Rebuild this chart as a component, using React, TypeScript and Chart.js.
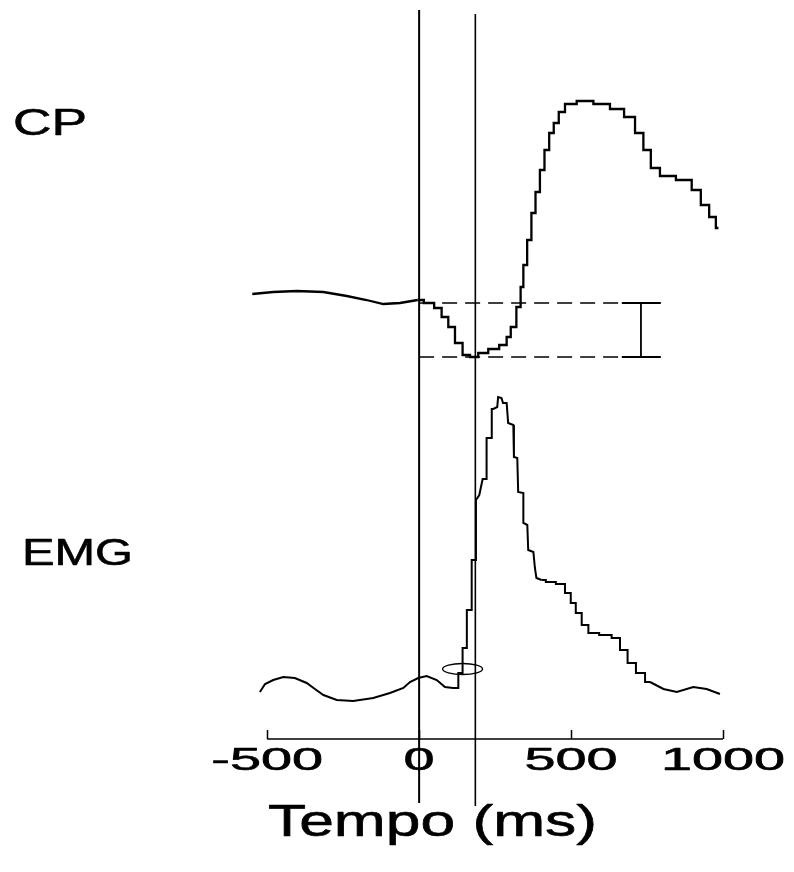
import React, { useEffect, useRef } from "react";
import { Chart, registerables } from "chart.js";

Chart.register(...registerables);

// Time axis (ms)
const xTicks = [-500, 0, 500, 1000];
const xTickLabels = ["-500", "0", "500", "1000"];

// CP trace (time in ms, amplitude in arbitrary units)
const cpTime = [-549, -480, -403, -315, -238, -173, -118, -63, -5, 36, 63, 85, 107, 129, 157, 178, 211, 244, 283, 293, 310, 330, 338, 348, 363, 376, 390, 405, 420, 436, 450, 469, 491, 546, 601, 655, 694, 727, 749, 776, 809, 881, 913, 941, 968, 985];
const cpValue = [516, 518, 519, 518, 514, 510, 506, 507, 510, 507, 502, 493, 483, 467, 455, 453, 457, 461, 465, 473, 483, 503, 523, 545, 570, 597, 618, 640, 660, 677, 687, 698, 706, 709, 706, 701, 693, 677, 660, 642, 634, 630, 620, 605, 593, 582];
// index where the recorded CP trace becomes step-like (after stimulus onset)
const cpStepFrom = 8;

// EMG trace
const emgTime = [-524, -507, -480, -447, -409, -370, -343, -315, -271, -217, -151, -96, -52, -30, -3, 25, 58, 85, 112, 129, 129, 143, 143, 157, 157, 173, 173, 187, 187, 198, 209, 222, 222, 239, 239, 244, 257, 260, 271, 276, 288, 293, 310, 312, 323, 326, 343, 343, 356, 359, 376, 381, 386, 403, 431, 469, 491, 507, 524, 546, 568, 617, 650, 672, 700, 727, 760, 804, 848, 902, 946, 990];
const emgValue = [118, 126, 130, 133, 132, 127, 121, 115, 110, 109, 112, 117, 122, 128, 132, 134, 130, 123, 122, 122, 137, 137, 162, 162, 200, 200, 250, 250, 310, 315, 331, 331, 372, 372, 401, 401, 403, 413, 412, 407, 407, 387, 385, 353, 352, 318, 317, 287, 285, 260, 258, 242, 232, 230, 228, 226, 217, 207, 197, 185, 177, 175, 172, 160, 147, 137, 128, 121, 118, 123, 121, 116];
// step-like stretch of the EMG decay
const emgStepFrom = 53;
const emgStepTo = 66;

// Vertical markers: stimulus onset and EMG onset
const markerTimes = [0, 185];
const markerTop = [800, 796];
const markerBottom = [7, 4];

// CP baseline / minimum reference levels and amplitude bar
const cpBaseLevel = 507;
const cpMinLevel = 453;
const refLineStart = 0;
const refLineEnd = 795;
const capStart = 667;
const barTime = 730;

// EMG onset ellipse centre
const onsetTime = 143;
const onsetValue = 141;

// Time axis level
const axisLevel = 71;

const toXY = (xs: number[], ys: number[]) => xs.map((x, i) => ({ x, y: ys[i] }));

const FONT = '"Liberation Sans", Arial, sans-serif';

function drawStretched(ctx: CanvasRenderingContext2D, text: string, left: number, baseline: number, size: number, width: number) {
  ctx.save();
  ctx.font = `${size}px ${FONT}`;
  const w = ctx.measureText(text).width;
  const sx = width / w;
  ctx.translate(left, baseline);
  ctx.scale(sx, 1);
  ctx.textAlign = "left";
  ctx.textBaseline = "alphabetic";
  ctx.fillStyle = "#000";
  ctx.strokeStyle = "#000";
  ctx.lineWidth = 0.6;
  ctx.lineJoin = "round";
  ctx.fillText(text, 0, 0);
  ctx.strokeText(text, 0, 0);
  ctx.restore();
}

const overlayPlugin = {
  id: "overlay",
  afterDatasetsDraw(chart: any) {
    const { ctx, scales } = chart;
    const xs = scales.x;
    const ys = scales.y;
    ctx.save();
    ctx.strokeStyle = "#000";
    // axis line
    const ay = ys.getPixelForValue(axisLevel);
    ctx.lineWidth = 1.5;
    ctx.beginPath();
    ctx.moveTo(xs.getPixelForValue(xTicks[0]), ay);
    ctx.lineTo(xs.getPixelForValue(xTicks[xTicks.length - 1]), ay);
    ctx.stroke();
    // upward ticks
    xTicks.forEach((t) => {
      const px = Math.round(xs.getPixelForValue(t)) + 0.5;
      ctx.beginPath();
      ctx.moveTo(px, ay);
      ctx.lineTo(px, ay - 9);
      ctx.stroke();
    });
    // tick labels (horizontally stretched)
    ctx.font = `31px ${FONT}`;
    xTickLabels.forEach((lab, i) => {
      const px = xs.getPixelForValue(xTicks[i]);
      const w = ctx.measureText(lab).width * 1.8;
      drawStretched(ctx, lab, px - w / 2, 770, 31, w);
    });
    // onset ellipse
    ctx.lineWidth = 1.3;
    ctx.beginPath();
    ctx.ellipse(xs.getPixelForValue(onsetTime), ys.getPixelForValue(onsetValue), 20, 5.5, 0, 0, Math.PI * 2);
    ctx.stroke();
    // labels
    drawStretched(ctx, "CP", 13, 135, 36, 74);
    drawStretched(ctx, "EMG", 22, 565, 36, 111);
    drawStretched(ctx, "Tempo (ms)", 268, 836, 44, 329);
    ctx.restore();
  },
};

export default function App() {
  const ref = useRef<HTMLCanvasElement | null>(null);
  useEffect(() => {
    if (!ref.current) return;
    const line = (data: any[], extra: any = {}) => ({
      data,
      borderColor: "#000",
      borderWidth: 2,
      pointRadius: 0,
      tension: 0,
      fill: false,
      ...extra,
    });
    const cpPoints = toXY(cpTime, cpValue);
    const emgPoints = toXY(emgTime, emgValue);
    const datasets: any[] = [
      line(toXY([markerTimes[0], markerTimes[0]], [markerTop[0], markerBottom[0]]), { borderWidth: 2 }),
      line(toXY([markerTimes[1], markerTimes[1]], [markerTop[1], markerBottom[1]]), { borderWidth: 1.6 }),
      line(toXY([refLineStart, refLineEnd], [cpBaseLevel, cpBaseLevel]), { borderWidth: 1.5, borderDash: [15, 8] }),
      line(toXY([refLineStart, refLineEnd], [cpMinLevel, cpMinLevel]), { borderWidth: 1.5, borderDash: [15, 8] }),
      line(toXY([capStart, refLineEnd], [cpBaseLevel, cpBaseLevel]), { borderWidth: 2 }),
      line(toXY([capStart, refLineEnd], [cpMinLevel, cpMinLevel]), { borderWidth: 2 }),
      line(toXY([barTime, barTime], [cpBaseLevel, cpMinLevel]), { borderWidth: 1.8 }),
      line(cpPoints.slice(0, cpStepFrom + 1), { borderWidth: 2.3 }),
      line(cpPoints.slice(cpStepFrom), { borderWidth: 2.3, stepped: "middle" }),
      line(emgPoints.slice(0, emgStepFrom + 1), { borderWidth: 2 }),
      line(emgPoints.slice(emgStepFrom, emgStepTo + 1), { borderWidth: 2, stepped: "middle" }),
      line(emgPoints.slice(emgStepTo), { borderWidth: 2 }),
    ];
    const chart = new Chart(ref.current, {
      type: "line",
      data: { datasets },
      options: {
        animation: false,
        responsive: false,
        maintainAspectRatio: false,
        layout: { padding: { left: 252, right: 71, top: 10, bottom: 62 } },
        plugins: { legend: { display: false }, tooltip: { enabled: false } },
        scales: {
          x: { type: "linear", min: -550, max: 1000, display: false },
          y: { type: "linear", min: 0, max: 800, display: false },
        },
      },
      plugins: [overlayPlugin],
    });
    return () => chart.destroy();
  }, []);
  return (
    <div style={{ position: "fixed", left: 0, top: 0, width: 794, height: 872, background: "#fff" }}>
      <canvas ref={ref} width={794} height={872} style={{ width: 794, height: 872, display: "block" }} />
    </div>
  );
}
